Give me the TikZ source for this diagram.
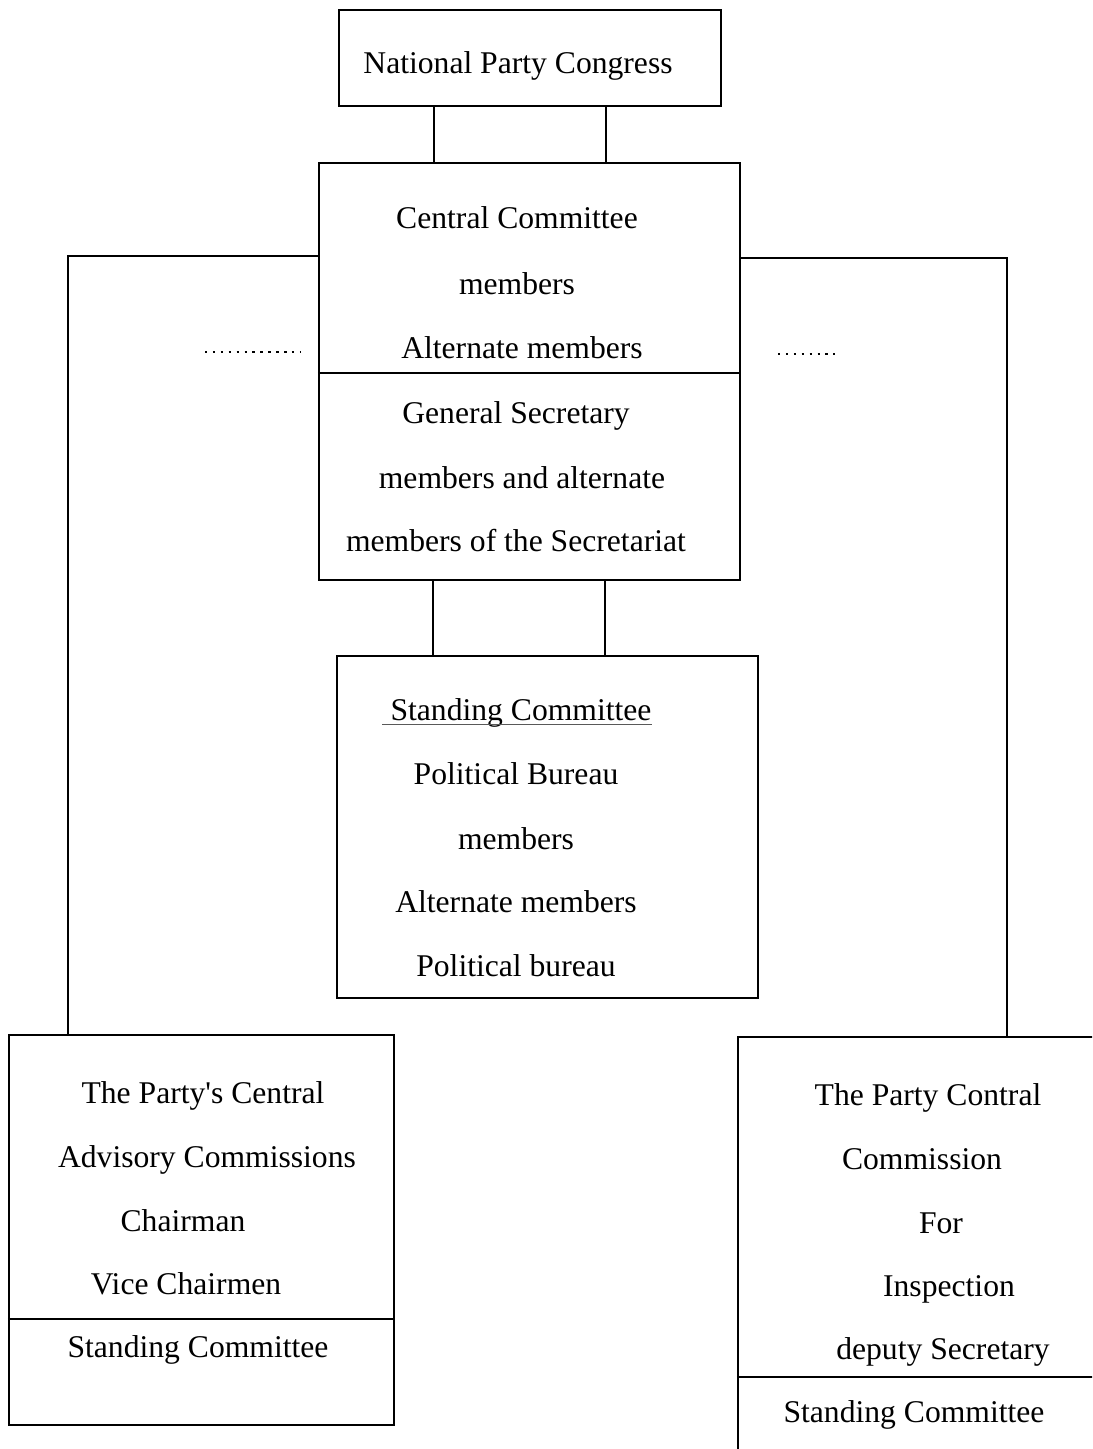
\documentclass[tikz,border=0pt]{standalone}
\usepackage{fontspec}
\setmainfont{Liberation Serif}
\newcommand{\px}{0.02cm}
\begin{document}
\begin{tikzpicture}[x=0.02cm, y=-0.02cm, font=\fontsize{18}{22}\selectfont]
		\tikzset{box/.style = {draw, line width=1.3pt, inner sep=0pt}}
		\tikzset{edge/.style = {line width=1.3pt}}
		\tikzset{txt/.style = {anchor=base, inner sep=0pt}}
		
		\clip (0,0) rectangle (1092,1449);
		
		% boxes
		\node[box, minimum width=382*\px, minimum height=96*\px]  (npc) at ( 530,   58) {};
		\node[box, minimum width=421*\px, minimum height=417*\px] (cc)  at ( 529.5, 371.5) {};
		\node[box, minimum width=421*\px, minimum height=342*\px] (sc)  at ( 547.5, 827) {};
		\node[box, minimum width=385*\px, minimum height=390*\px] (adv) at ( 201.5,1230) {};
		\node[box, minimum width=372*\px, minimum height=433*\px] (cic) at ( 924, 1253.5) {};
		
		% dividers
		\coordinate (ccdiv)  at (0, 373);
		\coordinate (advdiv) at (0,1319);
		\coordinate (cicdiv) at (0,1377);
		\draw[edge] (ccdiv -| cc.west) -- (ccdiv -| cc.east);
		\draw[edge] (advdiv -| adv.west) -- (advdiv -| adv.east);
		\draw[edge] (cicdiv -| cic.west) -- (cicdiv -| cic.east);
		
		% texts
		\node[txt] (n1)  at ( 518,  74) {National Party Congress};
		
		\node[txt] (c1)  at ( 517, 229) {Central Committee};
		\node[txt] (c2)  at ( 517, 295) {members};
		\node[txt] (c3)  at ( 522, 358) {Alternate members};
		\node[txt] (c4)  at ( 516, 423) {General Secretary};
		\node[txt] (c5)  at ( 522, 488) {members and alternate};
		\node[txt] (c6)  at ( 516, 551) {members of the Secretariat};
		
		\node[txt] (s1)  at ( 521, 720) {Standing Committee};
		\node[txt] (s2)  at ( 516, 784) {Political Bureau};
		\node[txt] (s3)  at ( 516, 849) {members};
		\node[txt] (s4)  at ( 516, 912) {Alternate members};
		\node[txt] (s5)  at ( 516, 976) {Political bureau};
		
		\node[txt] (a1)  at ( 203,1103) {The Party\textquotesingle s Central};
		\node[txt] (a2)  at ( 207,1167) {Advisory Commissions};
		\node[txt] (a3)  at ( 183,1231) {Chairman};
		\node[txt] (a4)  at ( 186,1294) {Vice Chairmen};
		\node[txt] (a5)  at ( 198,1357) {Standing Committee};
		
		\node[txt] (i1)  at ( 928,1105) {The Party Contral};
		\node[txt] (i2)  at ( 922,1169) {Commission};
		\node[txt] (i3)  at ( 941,1233) {For};
		\node[txt] (i4)  at ( 949,1296) {Inspection};
		\node[txt] (i5)  at ( 943,1359) {deputy Secretary};
		\node[txt] (i6)  at ( 914,1422) {Standing Committee};
		
		% underline
		\draw[line width=0.8pt, gray!70!black] ([xshift=-8*\px, yshift=-2.5pt]s1.base west) -- ([yshift=-2.5pt]s1.base east);
		
		% connectors
		\coordinate (xa) at ( 434,0);
		\coordinate (xb) at ( 606,0);
		\coordinate (xc) at ( 433,0);
		\coordinate (xd) at ( 605,0);
		\coordinate (xl) at (  68,0);
		\coordinate (xr) at (1007,0);
		
		\draw[edge] (xa |- npc.south) to (xa |- cc.north);
		\draw[edge] (xb |- npc.south) to (xb |- cc.north);
		\draw[edge] (xc |- cc.south)  to (xc |- sc.north);
		\draw[edge] (xd |- cc.south)  to (xd |- sc.north);
		\draw[edge] (cc.north west) ++(0,94) -| (xl |- adv.north);
		\draw[edge] (cc.north east) ++(0,96) -| (xr |- cic.north);
		
		% dots
		\draw[line width=1.4pt, dash pattern=on 1.4pt off 3.1pt] (205,352) -- (300,352);
		\draw[line width=1.4pt, dash pattern=on 1.4pt off 3.1pt] (778,354) -- (835,354);
		\end{tikzpicture}
\end{document}
